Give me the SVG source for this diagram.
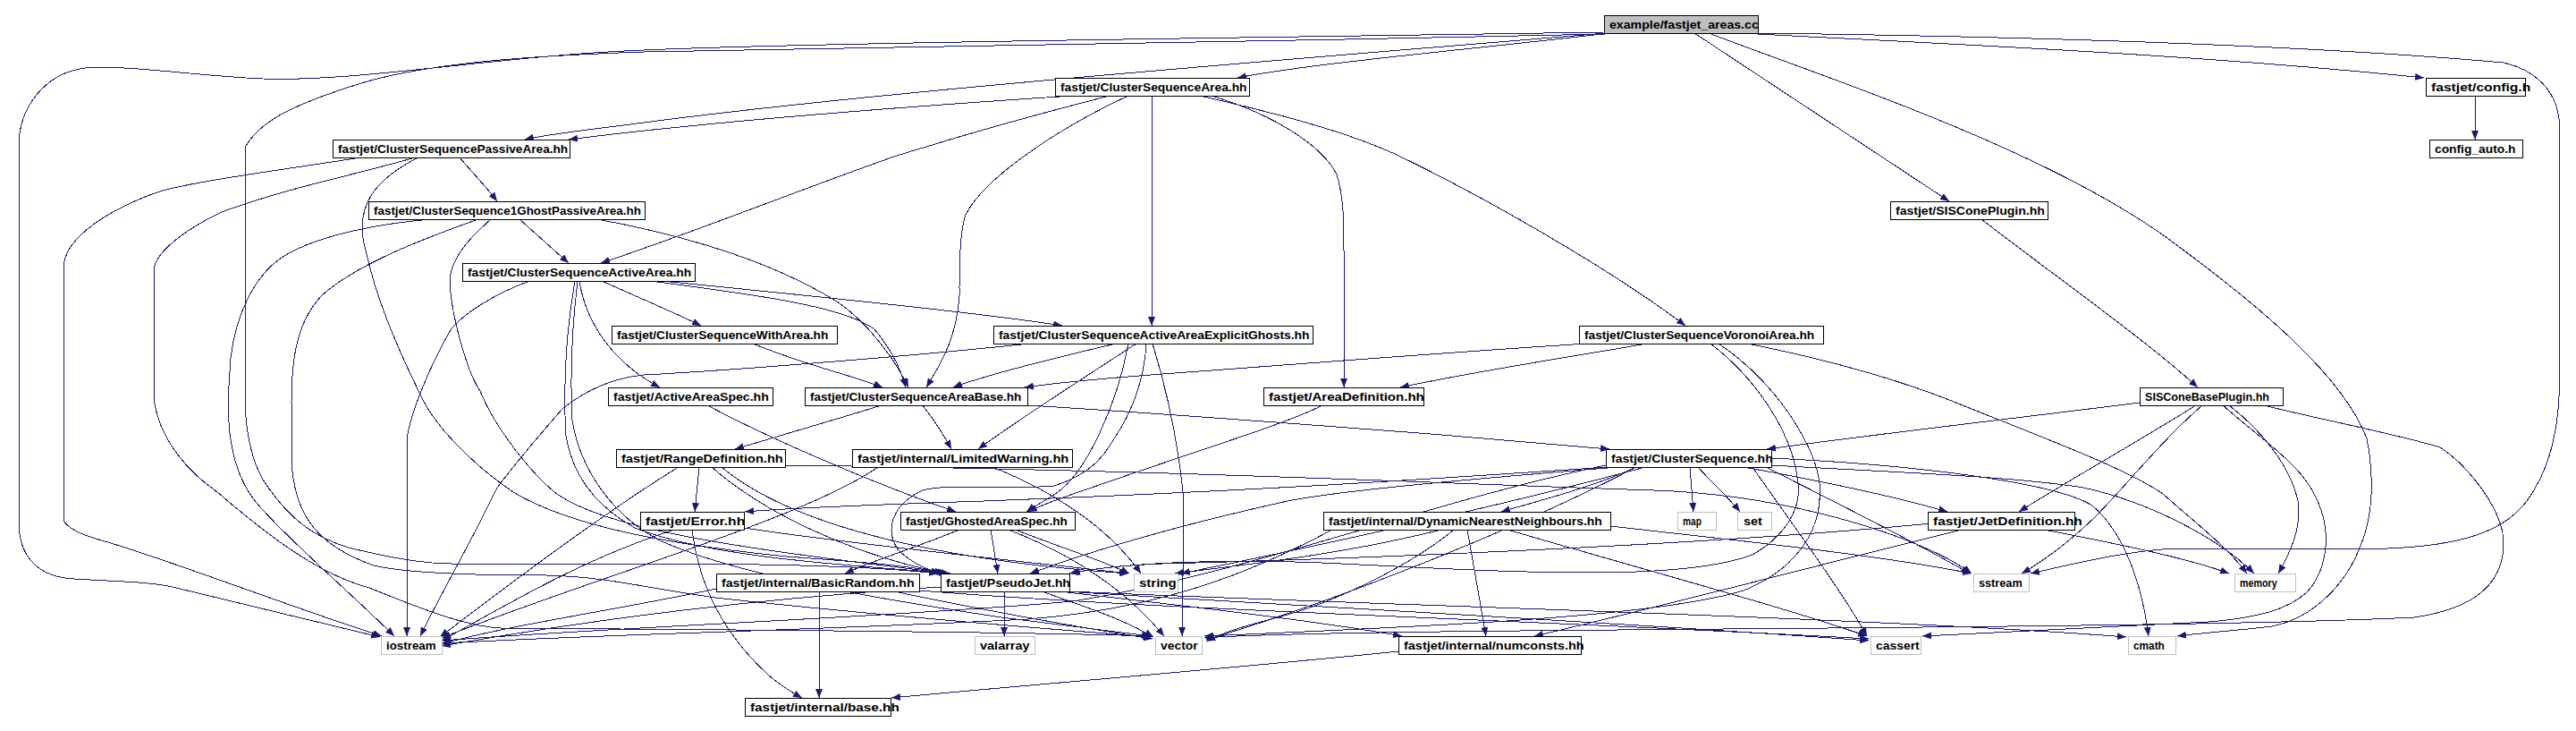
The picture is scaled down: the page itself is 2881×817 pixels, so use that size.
<svg xmlns="http://www.w3.org/2000/svg" width="2881" height="817" viewBox="0 0 2881 817">
<defs>
<marker id="a" markerUnits="userSpaceOnUse" markerWidth="10" markerHeight="8" viewBox="0 0 10 8" refX="10" refY="4" orient="auto"><path d="M0,0 L10,4 L0,8 z" fill="#191970"/></marker>
<style>
.n rect{fill:#fff;stroke:#000;stroke-width:1}
.s rect{fill:#fff;stroke:#bfbfbf;stroke-width:1}
.r rect{fill:#bfbfbf;stroke:#000;stroke-width:1}
rect{shape-rendering:crispEdges}
text{font-family:"Liberation Sans",Arial,sans-serif;font-size:13px;font-weight:bold;fill:#000}
#edges path{fill:none;stroke:#191970;stroke-width:1;marker-end:url(#a);shape-rendering:crispEdges}
</style>
</defs>
<rect x="0" y="0" width="2881" height="817" fill="#fff"/>
<g id="edges">
<path d="M1800,37 C1650,55 1470,70 1384,87"/>
<path d="M1796,37 C1500,62 1000,100 720,137 C660,145 610,150 587,156"/>
<path d="M1794,36 C1400,42 900,48 720,56 C560,62 400,92 294,88 C220,85 140,72 95,76 C50,82 21,120 21,163 L21,583 C21,625 45,645 83,647 C130,650 170,650 197,657 L425,712"/>
<path d="M1796,38 C1400,47 900,54 720,58 C600,62 480,70 404,93 C330,116 290,135 274,165 L274,443 C274,490 285,525 300,545 C325,580 350,600 390,612 C430,622 470,630 505,630 L720,630 C850,630 980,633 1049,641"/>
<path d="M1895,37 L2180,225"/>
<path d="M1966,38 C2150,48 2450,60 2711,87"/>
<path d="M1966,37 C2200,40 2550,48 2800,70 C2835,78 2858,100 2862,133 L2862,443 C2860,490 2848,530 2826,560 C2800,595 2750,610 2670,613 L2435,613 C2380,615 2320,630 2271,641"/>
<path d="M1911,37 C2050,90 2300,170 2440,278 C2530,345 2620,420 2647,490 C2655,530 2655,575 2640,610 C2625,650 2590,690 2541,700 C2500,705 2465,707 2435,711"/>
<path d="M1200,107 C1000,120 800,135 636,156"/>
<path d="M1241,107 C1150,130 1080,150 1000,175 C900,210 770,262 672,294"/>
<path d="M1262,107 C1180,145 1100,200 1080,240 C1073,260 1073,300 1073,330 C1070,380 1050,410 1036,433"/>
<path d="M1288,107 L1288,364"/>
<path d="M1342,107 C1420,125 1500,145 1560,172 C1660,220 1800,300 1885,364"/>
<path d="M1355,107 C1430,130 1480,165 1495,195 C1503,220 1503,250 1503,280 L1503,433"/>
<path d="M2768,107 L2768,156"/>
<path d="M404,176 C300,192 200,205 170,217 C110,240 71,270 71,300 L71,582 C80,595 100,600 124,607 C200,630 330,680 427,711"/>
<path d="M464,176 C400,195 320,210 248,237 C200,260 172,285 172,303 L172,443 C175,480 200,520 243,550 C290,590 350,640 413,657 C470,680 520,700 560,702 C800,704 1100,705 1289,711"/>
<path d="M468,176 C420,200 395,230 409,280 C420,330 440,380 473,447 C490,480 530,520 574,550 C640,590 760,610 880,622 C960,628 1020,632 1055,641"/>
<path d="M514,176 C530,195 545,210 556,225"/>
<path d="M482,245 C400,252 340,270 312,290 C285,310 264,350 258,400 L255,447 C255,500 265,540 294,570 C330,610 400,670 441,711"/>
<path d="M535,245 C470,268 400,295 360,330 C332,360 326,400 326,450 L326,513 C328,575 355,610 418,632 C460,642 560,643 611,643 C680,645 710,655 800,668 C1000,690 1200,705 1288,712"/>
<path d="M549,245 C530,262 505,285 503,313 C505,360 525,420 537,437 C550,470 585,520 620,550 C680,595 850,615 1060,641"/>
<path d="M581,245 C600,262 620,280 636,294"/>
<path d="M668,245 C760,262 860,290 936,337 C970,360 1000,400 1016,433"/>
<path d="M592,314 C550,330 520,350 505,367 C480,410 460,460 455,490 L455,711"/>
<path d="M643,314 C635,360 629,420 633,487 C640,530 665,565 710,590 C800,625 960,632 1063,641"/>
<path d="M646,314 C638,380 638,430 640,470 C650,530 690,580 740,605 C830,645 1000,672 1120,690 C1200,700 1255,707 1287,711"/>
<path d="M648,314 C655,360 685,405 738,433"/>
<path d="M673,314 C720,335 760,352 784,364"/>
<path d="M720,313 C850,330 940,342 977,367 C997,390 1008,415 1013,433"/>
<path d="M740,314 C900,330 1100,350 1188,364"/>
<path d="M842,384 C900,408 955,420 987,433"/>
<path d="M791,453 C870,495 990,545 1069,572"/>
<path d="M1248,384 C1180,400 1100,420 1066,433"/>
<path d="M1271,384 C1200,430 1130,475 1094,502"/>
<path d="M1152,384 C1000,400 800,415 720,419 C680,423 650,440 629,457 C600,490 575,520 556,545 C530,600 495,660 470,711"/>
<path d="M1262,384 C1250,450 1215,530 1180,552 C1165,562 1155,567 1148,572"/>
<path d="M1282,384 C1280,430 1260,470 1248,487 C1235,510 1220,530 1179,543 C1120,548 1060,540 1032,548 C995,565 990,595 1005,615 C1018,628 1035,636 1051,641"/>
<path d="M1289,384 C1300,420 1316,480 1323,550 C1325,600 1322,660 1322,711"/>
<path d="M1775,384 C1600,395 1440,408 1300,418 C1220,424 1180,428 1146,433"/>
<path d="M1842,384 C1750,400 1650,415 1566,433"/>
<path d="M1954,384 C2060,405 2140,430 2200,455 C2300,495 2380,525 2419,552 C2450,580 2490,610 2513,641"/>
<path d="M1913,384 C1960,420 2005,480 2011,540 C2015,570 1995,600 1960,620 C1880,650 1700,640 1500,630 C1380,624 1260,628 1196,641"/>
<path d="M1922,384 C1990,430 2030,500 2035,540 C2040,600 2000,640 1950,660 C1850,690 1600,700 1347,711"/>
<path d="M986,453 C930,470 870,488 822,502"/>
<path d="M1032,453 C1045,470 1055,485 1064,502"/>
<path d="M1149,453 C1300,462 1440,473 1600,485 C1700,493 1760,498 1800,502"/>
<path d="M1479,453 C1440,473 1350,500 1250,535 C1200,552 1170,562 1150,572"/>
<path d="M2216,245 C2300,310 2400,380 2458,433"/>
<path d="M2393,450 C2250,468 2100,485 1976,502"/>
<path d="M2456,453 C2380,500 2300,545 2258,572"/>
<path d="M2463,453 C2420,490 2380,540 2344,577 C2310,610 2280,630 2261,641"/>
<path d="M2493,453 C2540,490 2564,530 2570,560 C2575,590 2560,620 2548,641"/>
<path d="M2486,453 C2540,500 2575,520 2592,560 C2610,600 2600,640 2580,662 C2560,680 2530,690 2470,695 C2350,700 2250,705 2150,711"/>
<path d="M2532,453 C2600,470 2680,485 2729,500 C2760,520 2800,570 2800,607 C2800,650 2770,680 2700,690 C2500,700 2000,702 1700,705 C1500,707 1400,709 1347,713"/>
<path d="M1800,522 C1600,535 1440,547 1100,560 C950,565 880,568 833,572"/>
<path d="M1830,522 C1780,545 1720,560 1679,572"/>
<path d="M1890,522 L1894,572"/>
<path d="M1899,522 C1915,540 1935,558 1946,572"/>
<path d="M1950,522 C2050,540 2130,558 2178,572"/>
<path d="M1810,522 C1650,535 1500,548 1440,560 C1350,580 1250,605 1152,641"/>
<path d="M1840,522 C1700,560 1500,605 1321,641"/>
<path d="M1796,520 C1600,560 1400,640 1200,672 C1000,690 700,700 494,716"/>
<path d="M1830,522 C1700,590 1500,670 1349,715"/>
<path d="M1981,520 C2100,527 2250,532 2330,545 C2400,560 2480,600 2521,641"/>
<path d="M1960,522 C2000,580 2060,660 2088,711"/>
<path d="M1981,512 C2150,520 2300,540 2340,565 C2375,595 2395,650 2403,711"/>
<path d="M1975,522 C2050,560 2150,610 2203,641"/>
<path d="M1641,592 L1662,711"/>
<path d="M1626,592 C1580,630 1500,670 1440,687 C1400,698 1370,705 1349,717"/>
<path d="M1612,592 C1500,620 1400,630 1314,641"/>
<path d="M1686,592 C1850,640 2000,680 2088,711"/>
<path d="M1490,592 C1400,640 1300,680 1150,692 C900,705 700,708 494,719"/>
<path d="M1801,588 C1950,605 2100,620 2205,641"/>
<path d="M2286,592 C2380,610 2450,625 2493,641"/>
<path d="M2194,592 C2000,640 1850,680 1716,711"/>
<path d="M2160,585 C1900,610 1500,625 1300,630 C1250,632 1220,636 1198,641"/>
<path d="M782,522 L777,572"/>
<path d="M759,522 C680,570 560,660 492,712"/>
<path d="M796,522 C850,570 950,620 1058,641"/>
<path d="M807,522 C900,600 1100,630 1262,641"/>
<path d="M878,520 C1300,525 1600,540 1850,548 C2000,553 2150,600 2205,641"/>
<path d="M982,522 C900,580 650,650 494,713"/>
<path d="M1110,522 C1180,550 1240,590 1276,641"/>
<path d="M1073,592 C1030,610 980,625 945,641"/>
<path d="M1108,592 L1116,641"/>
<path d="M1136,592 C1180,610 1230,625 1263,641"/>
<path d="M1128,592 C1200,620 1260,660 1302,711"/>
<path d="M754,592 C650,625 560,680 494,716"/>
<path d="M774,592 C780,640 800,700 858,753 C872,766 886,774 897,780"/>
<path d="M832,590 C950,608 1150,628 1262,641"/>
<path d="M916,661 L916,780"/>
<path d="M801,658 C700,680 560,700 494,720"/>
<path d="M1028,660 C1300,682 1700,692 2090,714"/>
<path d="M1000,661 C1100,682 1200,700 1289,714"/>
<path d="M1123,661 L1123,711"/>
<path d="M1165,661 C1220,680 1262,695 1290,712"/>
<path d="M1052,656 C800,672 620,700 494,722"/>
<path d="M1190,661 C1500,680 1800,695 2090,716"/>
<path d="M1196,661 C1500,675 2100,690 2378,712"/>
<path d="M1185,661 C1350,680 1480,695 1568,711"/>
<path d="M1564,728 C1400,745 1100,770 997,780"/>
</g>
<g id="n_areas_cc" class="r"><rect x="1794" y="17" width="172" height="20"/><text x="1800" y="31.5" textLength="166.8" lengthAdjust="spacingAndGlyphs">example/fastjet_areas.cc</text></g>
<g id="n_csarea" class="n"><rect x="1180" y="87" width="217" height="20"/><text x="1186" y="101.5" textLength="208.5" lengthAdjust="spacingAndGlyphs">fastjet/ClusterSequenceArea.hh</text></g>
<g id="n_config" class="n"><rect x="2713" y="87" width="111" height="20"/><text x="2719" y="101.5" textLength="111.2" lengthAdjust="spacingAndGlyphs">fastjet/config.h</text></g>
<g id="n_config_auto" class="n"><rect x="2717" y="156" width="104" height="20"/><text x="2723" y="170.5" textLength="90.4" lengthAdjust="spacingAndGlyphs">config_auto.h</text></g>
<g id="n_passive" class="n"><rect x="372" y="156" width="265" height="20"/><text x="378" y="170.5" textLength="257.2" lengthAdjust="spacingAndGlyphs">fastjet/ClusterSequencePassiveArea.hh</text></g>
<g id="n_1ghost" class="n"><rect x="412" y="225" width="309" height="20"/><text x="418" y="239.5" textLength="298.9" lengthAdjust="spacingAndGlyphs">fastjet/ClusterSequence1GhostPassiveArea.hh</text></g>
<g id="n_siscone" class="n"><rect x="2114" y="225" width="176" height="20"/><text x="2120" y="239.5" textLength="166.8" lengthAdjust="spacingAndGlyphs">fastjet/SISConePlugin.hh</text></g>
<g id="n_active" class="n"><rect x="517" y="294" width="260" height="20"/><text x="523" y="308.5" textLength="250.2" lengthAdjust="spacingAndGlyphs">fastjet/ClusterSequenceActiveArea.hh</text></g>
<g id="n_witharea" class="n"><rect x="684" y="364" width="252" height="20"/><text x="690" y="378.5" textLength="236.3" lengthAdjust="spacingAndGlyphs">fastjet/ClusterSequenceWithArea.hh</text></g>
<g id="n_explicit" class="n"><rect x="1111" y="364" width="357" height="20"/><text x="1117" y="378.5" textLength="347.5" lengthAdjust="spacingAndGlyphs">fastjet/ClusterSequenceActiveAreaExplicitGhosts.hh</text></g>
<g id="n_voronoi" class="n"><rect x="1766" y="364" width="273" height="20"/><text x="1772" y="378.5" textLength="257.2" lengthAdjust="spacingAndGlyphs">fastjet/ClusterSequenceVoronoiArea.hh</text></g>
<g id="n_activespec" class="n"><rect x="680" y="433" width="184" height="20"/><text x="686" y="447.5" textLength="173.8" lengthAdjust="spacingAndGlyphs">fastjet/ActiveAreaSpec.hh</text></g>
<g id="n_areabase" class="n"><rect x="900" y="433" width="249" height="20"/><text x="906" y="447.5" textLength="236.3" lengthAdjust="spacingAndGlyphs">fastjet/ClusterSequenceAreaBase.hh</text></g>
<g id="n_areadef" class="n"><rect x="1413" y="433" width="179" height="20"/><text x="1419" y="447.5" textLength="173.8" lengthAdjust="spacingAndGlyphs">fastjet/AreaDefinition.hh</text></g>
<g id="n_sisconebase" class="n"><rect x="2393" y="433" width="160" height="20"/><text x="2399" y="447.5" textLength="139" lengthAdjust="spacingAndGlyphs">SISConeBasePlugin.hh</text></g>
<g id="n_rangedef" class="n"><rect x="689" y="502" width="189" height="20"/><text x="695" y="516.5" textLength="180.7" lengthAdjust="spacingAndGlyphs">fastjet/RangeDefinition.hh</text></g>
<g id="n_limwarn" class="n"><rect x="953" y="502" width="246" height="20"/><text x="959" y="516.5" textLength="236.3" lengthAdjust="spacingAndGlyphs">fastjet/internal/LimitedWarning.hh</text></g>
<g id="n_cs" class="n"><rect x="1796" y="502" width="185" height="20"/><text x="1802" y="516.5" textLength="180.7" lengthAdjust="spacingAndGlyphs">fastjet/ClusterSequence.hh</text></g>
<g id="n_error" class="n"><rect x="716" y="572" width="116" height="20"/><text x="722" y="586.5" textLength="111.2" lengthAdjust="spacingAndGlyphs">fastjet/Error.hh</text></g>
<g id="n_ghosted" class="n"><rect x="1007" y="572" width="195" height="20"/><text x="1013" y="586.5" textLength="180.7" lengthAdjust="spacingAndGlyphs">fastjet/GhostedAreaSpec.hh</text></g>
<g id="n_dnn" class="n"><rect x="1480" y="572" width="321" height="20"/><text x="1486" y="586.5" textLength="305.8" lengthAdjust="spacingAndGlyphs">fastjet/internal/DynamicNearestNeighbours.hh</text></g>
<g id="n_map" class="s"><rect x="1876" y="572" width="43" height="20"/><text x="1882" y="586.5" textLength="20.9" lengthAdjust="spacingAndGlyphs">map</text></g>
<g id="n_set" class="s"><rect x="1943" y="572" width="38" height="20"/><text x="1950" y="586.5" textLength="20.9" lengthAdjust="spacingAndGlyphs">set</text></g>
<g id="n_jetdef" class="n"><rect x="2156" y="572" width="164" height="20"/><text x="2162" y="586.5" textLength="166.8" lengthAdjust="spacingAndGlyphs">fastjet/JetDefinition.hh</text></g>
<g id="n_basicrandom" class="n"><rect x="801" y="641" width="227" height="20"/><text x="807" y="655.5" textLength="215.5" lengthAdjust="spacingAndGlyphs">fastjet/internal/BasicRandom.hh</text></g>
<g id="n_pseudojet" class="n"><rect x="1052" y="641" width="144" height="20"/><text x="1058" y="655.5" textLength="139" lengthAdjust="spacingAndGlyphs">fastjet/PseudoJet.hh</text></g>
<g id="n_string" class="s"><rect x="1268" y="641" width="49" height="20"/><text x="1274" y="655.5" textLength="41.7" lengthAdjust="spacingAndGlyphs">string</text></g>
<g id="n_sstream" class="s"><rect x="2207" y="641" width="62" height="20"/><text x="2213" y="655.5" textLength="48.7" lengthAdjust="spacingAndGlyphs">sstream</text></g>
<g id="n_memory" class="s"><rect x="2499" y="641" width="68" height="20"/><text x="2505" y="655.5" textLength="41.7" lengthAdjust="spacingAndGlyphs">memory</text></g>
<g id="n_iostream" class="s"><rect x="426" y="711" width="68" height="20"/><text x="432" y="725.5" textLength="55.6" lengthAdjust="spacingAndGlyphs">iostream</text></g>
<g id="n_valarray" class="s"><rect x="1090" y="711" width="67" height="20"/><text x="1096" y="725.5" textLength="55.6" lengthAdjust="spacingAndGlyphs">valarray</text></g>
<g id="n_vector" class="s"><rect x="1292" y="711" width="52" height="20"/><text x="1298" y="725.5" textLength="41.7" lengthAdjust="spacingAndGlyphs">vector</text></g>
<g id="n_numconsts" class="n"><rect x="1564" y="711" width="204" height="20"/><text x="1570" y="725.5" textLength="201.6" lengthAdjust="spacingAndGlyphs">fastjet/internal/numconsts.hh</text></g>
<g id="n_cassert" class="s"><rect x="2092" y="711" width="56" height="20"/><text x="2098" y="725.5" textLength="48.7" lengthAdjust="spacingAndGlyphs">cassert</text></g>
<g id="n_cmath" class="s"><rect x="2380" y="711" width="53" height="20"/><text x="2386" y="725.5" textLength="34.8" lengthAdjust="spacingAndGlyphs">cmath</text></g>
<g id="n_base" class="n"><rect x="833" y="780" width="163" height="20"/><text x="839" y="794.5" textLength="166.8" lengthAdjust="spacingAndGlyphs">fastjet/internal/base.hh</text></g>
</svg>
